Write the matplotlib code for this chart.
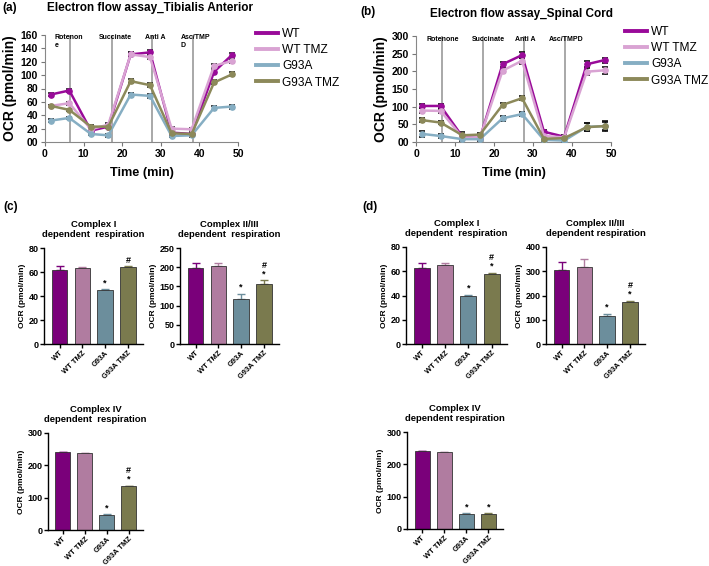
import matplotlib
matplotlib.use("Agg")
import matplotlib.pyplot as plt
from matplotlib.lines import Line2D
import numpy as np

plt.rcParams['font.family'] = ['Liberation Sans', 'DejaVu Sans']
plt.rcParams['font.weight'] = 'bold'

W, H = 709, 566

# ---------------- data ----------------
groups = ["WT", "WT TMZ", "G93A", "G93A TMZ"]
line_colors = ["#990A99", "#D9A3D3", "#86AEC3", "#8C895A"]
bar_colors = ["#7A007A", "#B07CA0", "#6C8E9C", "#7A7A4E"]

times = [1.5, 6.3, 11.9, 16.4, 22.2, 27.2, 32.8, 38.0, 43.8, 48.4]
inject_times = [6.6, 17.3, 27.8, 38.3]

# (a) Tibialis Anterior
ta_wt = [71, 77, 17, 23, 131, 134, 14, 12, 105, 130]
ta_wttmz = [54, 58, 19, 26, 131, 127, 20, 19, 114, 121]
ta_g93a = [32, 36, 12, 10, 71, 69, 9, 10, 51, 53]
ta_g93atmz = [54, 48, 23, 23, 91, 85, 13, 12, 89, 101]
ta_err = [2, 2, 2, 2, 3, 3, 2, 2, 3, 3]

# (b) Spinal Cord
sc_wt = [102, 102, 15, 11, 220, 246, 29, 15, 220, 232]
sc_wttmz = [89, 88, 13, 13, 202, 230, 17, 13, 199, 203]
sc_g93a = [23, 17, 8, 8, 67, 79, 6, 4, 43, 45]
sc_g93atmz = [62, 55, 19, 21, 105, 124, 9, 11, 42, 45]
sc_err_wt = [6, 6, 4, 4, 7, 8, 5, 4, 8, 7]
sc_err_wttmz = [6, 6, 4, 4, 8, 9, 5, 4, 10, 10]
sc_err_g93a = [9, 5, 4, 4, 8, 6, 4, 3, 12, 14]
sc_err_g93atmz = [6, 5, 8, 5, 6, 6, 4, 4, 12, 12]

ta_ticks = [0, 20, 40, 60, 80, 100, 120, 140, 160]
ta_ticklabels = ["00", "20", "40", "60", "80", "100", "120", "140", "160"]
sc_ticks = [0, 50, 100, 150, 200, 250, 300]
sc_ticklabels = ["00", "50", "100", "150", "200", "250", "300"]
time_ticks = [0, 10, 20, 30, 40, 50]

# bar panels
c1_vals = [62, 63.5, 45, 64]; c1_err = [3, 0.6, 0.6, 0.6]
c2_vals = [198, 202, 116, 155]; c2_err = [14, 10, 15, 11]
c4_vals = [240, 237, 47, 136]; c4_err = [2, 1.5, 2, 1.5]
d1_vals = [63, 65.5, 40, 58]; d1_err = [4, 1, 0.6, 0.8]
d2_vals = [305, 318, 115, 175]; d2_err = [35, 33, 10, 4]
d4_vals = [240, 237, 47, 47]; d4_err = [2, 1.5, 1.5, 1.5]

c1_marks = ["", "", "*", "#"]
c2_marks = ["", "", "*", "#\n*"]
c4_marks = ["", "", "*", "#\n*"]
d1_marks = ["", "", "*", "#\n*"]
d2_marks = ["", "", "*", "#\n*"]
d4_marks = ["", "", "*", "*"]

fig = plt.figure(figsize=(W / 100, H / 100), dpi=100)


def rect(x0, y0, x1, y1):
    return [x0 / W, 1 - y1 / H, (x1 - x0) / W, (y1 - y0) / H]


def line_panel(r, series, errs, yticks, yticklabels, ymax, title, title_x, title_y,
               labels, legend_xy, marker_err_color):
    ax = fig.add_axes(rect(*r))
    for vals, err, c, g in zip(series, errs, line_colors, groups):
        ax.errorbar(times, vals, yerr=err, color=c, lw=1.8, marker='o', ms=3.8,
                    ecolor=marker_err_color, elinewidth=1.0, capsize=2.5, capthick=1.2,
                    label=g, zorder=3)
    for t in inject_times:
        ax.axvline(t, color="#A8A8A8", lw=1.4, zorder=1)
    ax.set_xlim(0, 50)
    ax.set_ylim(0, ymax)
    ax.set_yticks(yticks)
    ax.set_yticklabels(yticklabels)
    ax.set_xticks(time_ticks)
    ax.tick_params(labelsize=7.5, length=3, color="#777777", width=0.8, pad=2)
    for s in ["top", "right"]:
        ax.spines[s].set_visible(False)
    for s in ["left", "bottom"]:
        ax.spines[s].set_color("#888888")
        ax.spines[s].set_linewidth(0.8)
    ax.set_ylabel("OCR (pmol/min)", fontsize=10, fontweight='bold', labelpad=3)
    ax.set_xlabel("Time (min)", fontsize=9.2, fontweight='bold', labelpad=6)
    for (tx, ty, txt) in labels:
        ax.text(tx, ty, txt, fontsize=5, fontweight='bold', ha='center', va='top',
                multialignment='left')
    fig.text(title_x / W, 1 - title_y / H, title, fontsize=8.5, fontweight='bold',
             ha='center', va='center')
    hs = [Line2D([0], [0], color=c, lw=2.8) for c in line_colors]
    fig.legend(hs, groups, loc='upper left',
               bbox_to_anchor=(legend_xy[0] / W, 1 - legend_xy[1] / H),
               frameon=False, prop={'size': 8.6, 'weight': 'normal'},
               handlelength=1.8, handletextpad=0.4,
               labelspacing=0.35, borderaxespad=0, borderpad=0)
    return ax


line_panel((45, 35, 238, 142), [ta_wt, ta_wttmz, ta_g93a, ta_g93atmz],
           [ta_err] * 4, ta_ticks, ta_ticklabels, 160,
           "Electron flow assay_Tibialis Anterior", 150, 8,
           [(6.2, 161, "Rotenon\ne"), (18.2, 161, "Succinate"), (28.6, 161, "Anti A"),
            (38.9, 161, "Asc/TMP\nD")], (256, 28), "#222222")

line_panel((416, 36, 611, 142), [sc_wt, sc_wttmz, sc_g93a, sc_g93atmz],
           [sc_err_wt, sc_err_wttmz, sc_err_g93a, sc_err_g93atmz],
           sc_ticks, sc_ticklabels, 300,
           "Electron flow assay_Spinal Cord", 522, 14,
           [(6.9, 301, "Rotenone"), (18.5, 301, "Succinate"), (28.0, 301, "Anti A"),
            (38.6, 301, "Asc/TMPD")], (625, 26), "#111111")


def bar_panel(r, vals, errs, marks, ymax, step, title):
    ax = fig.add_axes(rect(*r))
    x = np.arange(len(groups))
    ax.bar(x, vals, width=0.68, color=bar_colors, edgecolor="#333333", linewidth=0.6,
           zorder=2)
    for xi, v, e, c in zip(x, vals, errs, bar_colors):
        ax.errorbar([xi], [v], yerr=[[0], [e]], fmt='none', ecolor=c,
                    elinewidth=1.0, capsize=3, capthick=1.0, zorder=1)
    for xi, v, e, m in zip(x, vals, errs, marks):
        if m:
            ax.text(xi, v + e + ymax * 0.02, m, ha='center', va='bottom', fontsize=6.5,
                    fontweight='bold', linespacing=0.9)
    ax.set_xlim(-0.68, 3.66)
    ax.set_ylim(0, ymax)
    ax.set_yticks(np.arange(0, ymax + 1, step))
    ax.set_xticks(x)
    ax.set_xticklabels(groups, rotation=45, ha='right', rotation_mode='anchor',
                       fontsize=5.4, fontweight='bold')
    ax.tick_params(axis='y', labelsize=6.5, length=3, width=1, pad=1)
    ax.tick_params(axis='x', length=3, width=1, pad=1)
    for s in ["top", "right"]:
        ax.spines[s].set_visible(False)
    for s in ["left", "bottom"]:
        ax.spines[s].set_linewidth(1.0)
    ax.set_ylabel("OCR (pmol/min)", fontsize=6, fontweight='bold', labelpad=2)
    ax.set_title(title, fontsize=6.8, fontweight='bold', pad=8, linespacing=1.15)
    return ax


bar_panel((44, 248, 143, 344), c1_vals, c1_err, c1_marks, 80, 20,
          "Complex I\ndependent  respiration")
bar_panel((180, 248, 279, 344), c2_vals, c2_err, c2_marks, 250, 50,
          "Complex II/III\ndependent  respiration")
bar_panel((48, 433, 143, 530), c4_vals, c4_err, c4_marks, 300, 100,
          "Complex IV\ndependent  respiration")
bar_panel((406, 247, 507, 344), d1_vals, d1_err, d1_marks, 80, 20,
          "Complex I\ndependent  respiration")
bar_panel((546, 247, 645, 344), d2_vals, d2_err, d2_marks, 400, 100,
          "Complex II/III\ndependent respiration")
bar_panel((407, 432, 503, 529), d4_vals, d4_err, d4_marks, 300, 100,
          "Complex IV\ndependent respiration")

for lab, x, y in [("(a)", 2, 8), ("(b)", 360, 12), ("(c)", 3, 207), ("(d)", 362, 207)]:
    fig.text(x / W, 1 - y / H, lab, fontsize=8.5, fontweight='bold', ha='left',
             va='center')

fig.savefig("out.png", dpi=100)
